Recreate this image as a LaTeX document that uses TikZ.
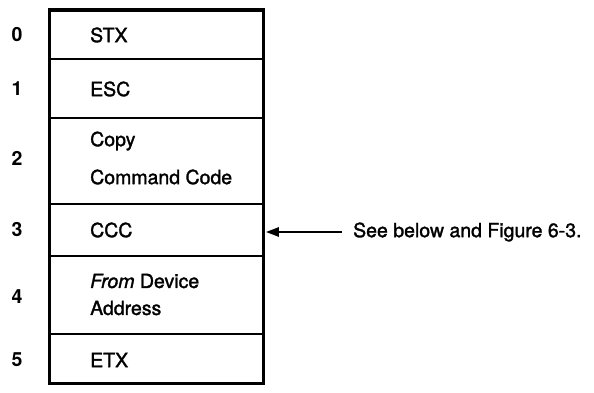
\documentclass[tikz,border=0pt]{standalone}
\usepackage{fontspec}
\setmainfont{TeX Gyre Heros}
\newfontfamily\medfont{TeX Gyre Heros}[UprightFeatures={FakeBold=1.6},ItalicFeatures={FakeBold=1.6}]
\usetikzlibrary{arrows.meta}
\begin{document}
\begin{tikzpicture}[x=1pt,y=-1pt,
  cell/.style={draw,line width=1.8pt,rectangle,minimum width=213pt,anchor=north west,inner sep=0pt},
  num/.style={font=\fontsize{19.5}{22}\selectfont\bfseries,anchor=center},
  txt/.style={font=\fontsize{19.5}{22}\selectfont\medfont,anchor=west,inner sep=0pt},
  ptr/.style={line width=2.4pt,-{Triangle[length=13pt,width=9pt]}}]
\useasboundingbox (0,0) rectangle (594,393);
\node[cell,minimum height=48pt] (c0) at (49,10) {};
\node[cell,minimum height=59pt] (c1) at (49,58) {};
\node[cell,minimum height=86pt] (c2) at (49,117) {};
\node[cell,minimum height=52pt] (c3) at (49,203) {};
\node[cell,minimum height=78pt] (c4) at (49,255) {};
\node[cell,minimum height=49pt] (c5) at (49,333) {};
\draw[line width=3pt] (c0.north west) rectangle (c5.south east);
\node[num] (n0) at (17,35) {0};
\node[num] (n1) at (17,89) {1};
\node[num] (n2) at (17,158) {2};
\node[num] (n3) at (17,230) {3};
\node[num] (n4) at (17,297) {4};
\node[num] (n5) at (17,360) {5};
\node[txt] (t0) at (90,35) {STX};
\node[txt] (t1) at (90,89) {ESC};
\node[txt] (t2a) at (90,141) {Copy};
\node[txt] (t2b) at (90,177) {Command Code};
\node[txt] (t3) at (90,230) {CCC};
\node[txt] (t4a) at (90,281) {\textit{From} Device};
\node[txt] (t4b) at (90,308) {Address};
\node[txt] (t5) at (90,360) {ETX};
\node[txt] (note) at (353,232) {See below and Figure 6-3.};
\draw[ptr] ([xshift=-11pt]note.west) -- ([xshift=2pt]c3.east|-note.west);
\end{tikzpicture}
\end{document}
